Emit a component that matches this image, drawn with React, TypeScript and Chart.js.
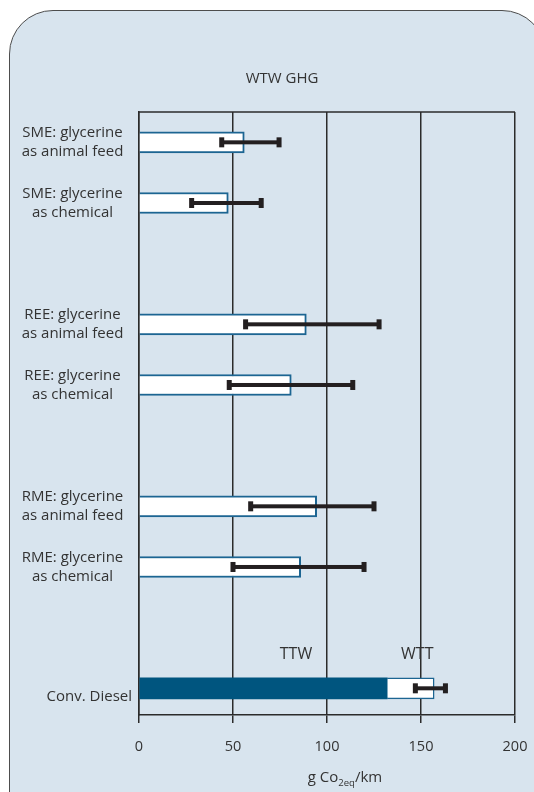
import React, { useEffect, useRef } from 'react';
import { Chart, registerables } from 'chart.js';

Chart.register(...registerables);

// ---------- data ----------
const categories: string[][] = [
  ['SME: glycerine', 'as animal feed'],
  ['SME: glycerine', 'as chemical'],
  [],
  ['REE: glycerine', 'as animal feed'],
  ['REE: glycerine', 'as chemical'],
  [],
  ['RME: glycerine', 'as animal feed'],
  ['RME: glycerine', 'as chemical'],
  [],
  ['Conv. Diesel'],
];
// WTW value (for Conv. Diesel: the TTW part)
const mainValues: (number | null)[] = [56, 47.5, null, 89, 81, null, 94.5, 86, null, 132];
// WTT part stacked on top (Conv. Diesel only)
const wttValues: (number | null)[] = [null, null, null, null, null, null, null, null, null, 25];
const errLow: (number | null)[] = [44, 28, null, 56.7, 48, null, 59.4, 50, null, 147];
const errHigh: (number | null)[] = [74.5, 65, null, 127.7, 113.7, null, 125, 119.7, null, 163];
const xTicks = [0, 50, 100, 150, 200];
const segmentLabels = ['TTW', 'WTT'];
const segmentLabelX = [83.5, 148];
const chartTitle = 'WTW GHG';
const axisTitleParts = ['g Co', '2eq', '/km'];

// ---------- styles ----------
const FONT = '"Open Sans", sans-serif';
const TEXT = '#333333';
const LINE = '#2b2b2b';
const BLUE = '#1c6592';
const DARK = '#00557f';
const ERR = '#231f20';
const PANEL = '#d8e4ee';

export default function App() {
  const canvasRef = useRef<HTMLCanvasElement>(null);

  useEffect(() => {
    const canvas = canvasRef.current;
    if (!canvas) return;
    const idx = categories.map((_, i) => i);
    const lastIndex = categories.length - 1;
    const mainData = idx
      .filter((i) => mainValues[i] != null)
      .map((i) => ({ x: mainValues[i] as number, y: i }));
    const wttData = idx
      .filter((i) => wttValues[i] != null)
      .map((i) => ({ x: wttValues[i] as number, y: i }));
    const hasWtt = (i: number) => wttValues[i] != null;

    const overlay = {
      id: 'overlay',
      afterDatasetsDraw(chart: any) {
        const { ctx, chartArea: a } = chart;
        const x = chart.scales.x;
        const y = chart.scales.y;
        ctx.save();
        // top frame line
        ctx.strokeStyle = LINE;
        ctx.lineWidth = 1.5;
        ctx.beginPath();
        ctx.moveTo(a.left, a.top);
        ctx.lineTo(a.right, a.top);
        ctx.stroke();

        // error bars
        ctx.fillStyle = ERR;
        errLow.forEach((lo, i) => {
          const hi = errHigh[i];
          if (lo == null || hi == null) return;
          const py = y.getPixelForValue(i);
          const x1 = x.getPixelForValue(lo);
          const x2 = x.getPixelForValue(hi);
          ctx.fillRect(x1, py - 2, x2 - x1, 4);
          ctx.fillRect(x1 - 2.5, py - 5, 5, 10);
          ctx.fillRect(x2 - 2.5, py - 5, 5, 10);
        });

        // category labels
        ctx.fillStyle = TEXT;
        ctx.font = `15px ${FONT}`;
        ctx.textBaseline = 'alphabetic';
        categories.forEach((lines, i) => {
          if (!lines.length) return;
          const py = y.getPixelForValue(i);
          if (lines.length === 1) {
            ctx.textAlign = 'right';
            ctx.fillText(lines[0], a.left - 7, py + 12.7);
          } else {
            ctx.textAlign = 'center';
            const cx = a.left - 66.5;
            ctx.fillText(lines[0], cx, py - 5.3);
            ctx.fillText(lines[1], cx, py + 13.7);
          }
        });

        // TTW / WTT labels
        ctx.font = `16px ${FONT}`;
        ctx.textAlign = 'center';
        const ly = y.getPixelForValue(lastIndex) - 29;
        segmentLabels.forEach((t, k) => {
          ctx.fillText(t, x.getPixelForValue(segmentLabelX[k]), ly);
        });

        // x axis title with subscript
        const [p1, p2, p3] = axisTitleParts;
        const mainFont = `15px ${FONT}`;
        const subFont = `9.5px ${FONT}`;
        ctx.font = mainFont;
        const w1 = ctx.measureText(p1).width;
        const w3 = ctx.measureText(p3).width;
        ctx.font = subFont;
        const w2 = ctx.measureText(p2).width;
        const total = w1 + w2 + w3;
        const cx = (a.left + a.right) / 2 + 18;
        const by = a.bottom + 66.7;
        let sx = cx - total / 2;
        ctx.textAlign = 'left';
        ctx.font = mainFont;
        ctx.fillText(p1, sx, by);
        sx += w1;
        ctx.font = subFont;
        ctx.fillText(p2, sx, by + 4.5);
        sx += w2;
        ctx.font = mainFont;
        ctx.fillText(p3, sx, by);
        ctx.restore();
      },
    };

    const chart = new Chart(canvas, {
      type: 'bar',
      data: {
        datasets: [
          {
            label: 'WTW',
            data: mainData as any,
            stack: 's',
            backgroundColor: (c: any) => (c.raw && hasWtt(c.raw.y) ? DARK : '#ffffff'),
            borderColor: (c: any) => (c.raw && hasWtt(c.raw.y) ? DARK : BLUE),
            borderWidth: (c: any) => (c.raw && hasWtt(c.raw.y) ? 0 : 2),
            barThickness: 21,
          },
          {
            label: 'WTT',
            data: wttData as any,
            stack: 's',
            backgroundColor: '#ffffff',
            borderColor: BLUE,
            borderWidth: 1.5,
            barThickness: 21,
          },
        ],
      },
      options: {
        indexAxis: 'y',
        animation: false,
        responsive: true,
        maintainAspectRatio: false,
        layout: { padding: 0 },
        plugins: {
          legend: { display: false },
          tooltip: { enabled: false },
          title: {
            display: true,
            text: chartTitle,
            color: TEXT,
            font: { family: FONT, size: 15, weight: 'normal', lineHeight: 1.2 },
            padding: { top: 60, bottom: 24 },
          },
        },
        scales: {
          x: {
            type: 'linear',
            stacked: true,
            min: xTicks[0],
            max: xTicks[xTicks.length - 1],
            afterBuildTicks: (s: any) => {
              s.ticks = xTicks.map((v) => ({ value: v }));
            },
            afterFit: (s: any) => {
              s.height = 77;
              s.paddingLeft = 0;
              s.paddingRight = 39;
            },
            ticks: {
              color: TEXT,
              font: { family: FONT, size: 14.5, lineHeight: 1.2 },
              padding: 15.3,
              maxRotation: 0,
            },
            grid: {
              display: true,
              color: LINE,
              lineWidth: 1.5,
              drawTicks: true,
              tickLength: 8,
              tickColor: LINE,
              offset: false,
            },
            border: { display: true, color: LINE, width: 1.5 },
          },
          y: {
            type: 'linear',
            reverse: true,
            stacked: true,
            offset: false,
            min: -0.5,
            max: 9.44,
            afterFit: (s: any) => {
              s.width = 129;
              s.paddingTop = 0;
              s.paddingBottom = 0;
            },
            ticks: { display: false },
            grid: { display: false, drawTicks: false, offset: false },
            border: { display: true, color: LINE, width: 1.5 },
          },
        },
      } as any,
      plugins: [overlay],
    });
    return () => chart.destroy();
  }, []);

  return (
    <div
      style={{
        position: 'fixed',
        left: 0,
        top: 0,
        width: 534,
        height: 792,
        overflow: 'hidden',
        background: '#ffffff',
      }}
    >
      <div
        style={{
          position: 'absolute',
          left: 9,
          top: 10,
          width: 537,
          height: 800,
          boxSizing: 'border-box',
          borderRadius: '44px 44px 0 0',
          border: '1.5px solid #4d4d4d',
          background: PANEL,
        }}
      />
      <div style={{ position: 'absolute', left: 10, top: 10, width: 544, height: 782 }}>
        <canvas ref={canvasRef} />
      </div>
    </div>
  );
}
